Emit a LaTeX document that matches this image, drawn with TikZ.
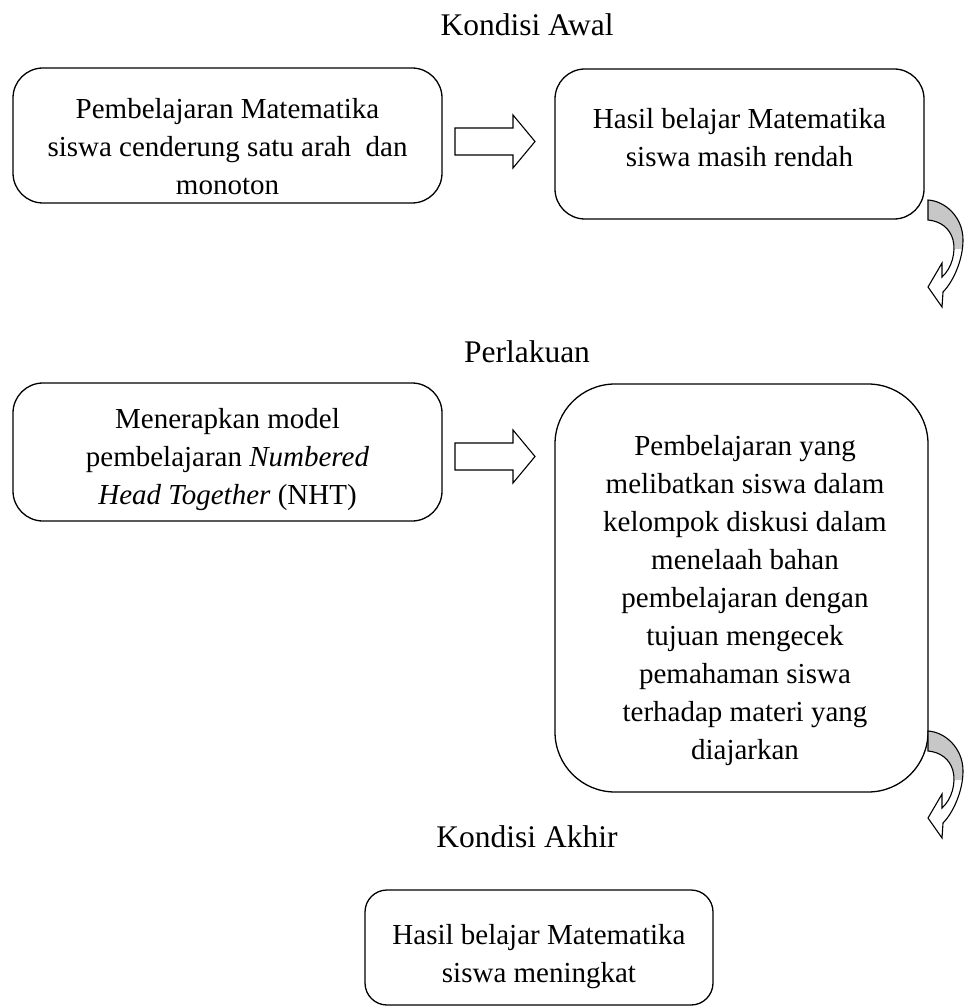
\documentclass[tikz,border=0pt]{standalone}
\usepackage{fontspec}
\setmainfont{Liberation Serif}
\begin{document}
\begin{tikzpicture}[x=1pt,y=-1pt,
  box/.style={draw, line width=1.3pt, rounded corners=#1, inner sep=0pt},
  txt/.style={font=\fontsize{29}{38}\selectfont, align=center, inner sep=0pt, anchor=north},
  ttl/.style={font=\fontsize{31.5}{37}\selectfont, inner sep=0pt, anchor=base},
  blockarrow/.style={draw, line width=1.1pt, fill=white, line join=miter},
  bandfill/.style={fill=black!22},
  bandline/.style={draw, line width=1.1pt, line join=miter}
]
\useasboundingbox (0,0) rectangle (964,1008);

% titles
\node[ttl] (k1) at (527,36) {Kondisi Awal};
\node[ttl] (k2) at (527,362) {Perlakuan};
\node[ttl] (k3) at (527,847) {Kondisi Akhir};

% boxes
\node[box=30pt, minimum width=429pt, minimum height=135pt] (b1) at (227.5,135.5) {};
\node[box=30pt, minimum width=369pt, minimum height=150pt] (b2) at (739.5,144) {};
\node[box=30pt, minimum width=429pt, minimum height=138pt] (b3) at (227.5,452) {};
\node[box=60pt, minimum width=373pt, minimum height=408pt] (b4) at (741.5,588) {};
\node[box=22pt, minimum width=348pt, minimum height=115pt] (b5) at (539,947.5) {};

% texts (north = first baseline - 26.6)
\node[txt] (t1) at (227.5,91.4) {\strut Pembelajaran Matematika\\siswa cenderung satu arah\ \ dan\\monoton};
\node[txt] (t2) at (739.5,101.4) {\strut Hasil belajar Matematika\\siswa masih rendah};
\node[txt] (t3) at (227.5,401.4) {\strut Menerapkan model\\pembelajaran \textit{Numbered}\\\textit{Head Together} (NHT)};
\node[txt] (t4) at (745,428.4) {\strut Pembelajaran yang\\melibatkan siswa dalam\\kelompok diskusi dalam\\menelaah bahan\\pembelajaran dengan\\tujuan mengecek\\pemahaman siswa\\terhadap materi yang\\diajarkan};
\node[txt] (t5) at (539,917.4) {\strut Hasil belajar Matematika\\siswa meningkat};

% block arrows between boxes
\coordinate (a1) at (455,141.5);
\coordinate (a2) at (455,456.5);
\foreach \a in {a1,a2}{
  \draw[blockarrow] (\a) ++(0,-13.5) -- ++(58,0) -- ++(0,-13) -- ++(22,26.5)
     -- ++(-22,26.5) -- ++(0,-13) -- ++(-58,0) -- cycle;
}

% curved arrows
\coordinate (c1) at (928,200);
\coordinate (c2) at (928,731);
\foreach \c in {c1,c2}{
  \begin{scope}[shift={(\c)}]
    \begin{scope}
      \clip (-2,-2) rectangle (40,48);
      \fill[bandfill] (0,0) .. controls (17,1) and (35,17) .. (35,40)
        .. controls (35,60) and (25,82) .. (15,92) -- (14,107) -- (0,87)
        -- (14,63) -- (14,77) .. controls (24,68) and (28,52) .. (25,40)
        .. controls (22,28) and (12,21) .. (0,20) -- cycle;
    \end{scope}
    \draw[bandline] (0,0) .. controls (17,1) and (35,17) .. (35,40)
        .. controls (35,60) and (25,82) .. (15,92) -- (14,107) -- (0,87)
        -- (14,63) -- (14,77) .. controls (24,68) and (28,52) .. (25,40)
        .. controls (22,28) and (12,21) .. (0,20) -- cycle;
  \end{scope}
}
\end{tikzpicture}
\end{document}
